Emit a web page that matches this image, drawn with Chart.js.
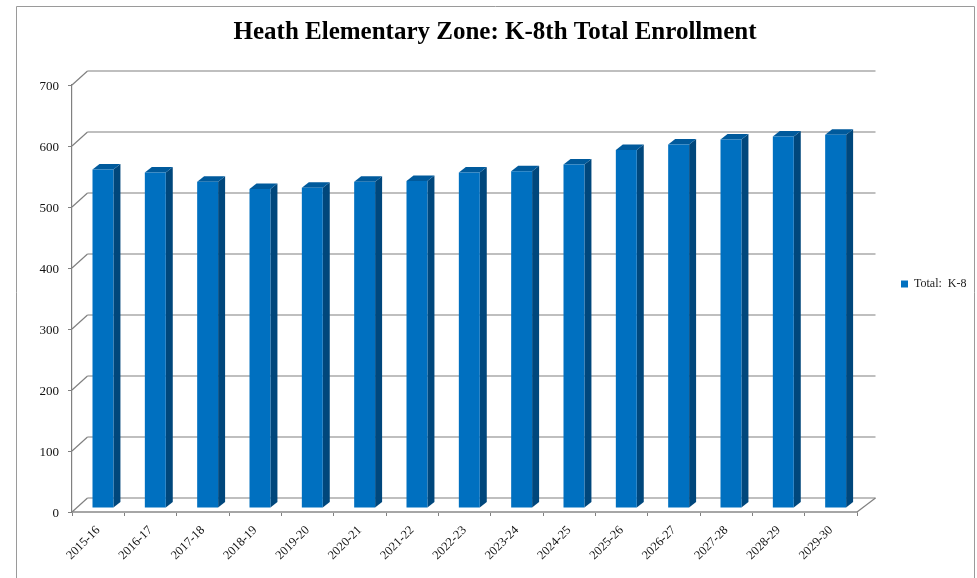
<!DOCTYPE html>
<html>
<head>
<meta charset="utf-8">
<title>Heath Elementary Zone: K-8th Total Enrollment</title>
<script src="https://cdn.jsdelivr.net/npm/chart.js@4"></script>
<style>
  html, body { margin: 0; padding: 0; background: #fff; overflow: hidden; }
  #wrap { position: relative; width: 977px; height: 578px; }
</style>
</head>
<body>
<div id="wrap"><canvas id="enrollment" width="977" height="578"></canvas></div>
<script>
'use strict';

const years = ['2015-16', '2016-17', '2017-18', '2018-19', '2019-20', '2020-21', '2021-22', '2022-23',
  '2023-24', '2024-25', '2025-26', '2026-27', '2027-28', '2028-29', '2029-30'];
const totalK8 = [555, 550, 535, 523, 525, 535, 536, 550, 552, 563, 587, 596, 604, 609, 612];

const SERIF = '"Liberation Serif", serif';
const GREY = '#808080';
const FRONT = '#0070c0', SIDE = '#00477c', TOP = '#005a9c';

// depth of the fake 3D box, and of each bar inside it
const WALL_DX = 15.5, WALL_DY = -14;
const BAR_SHIFT_X = 4.8, BAR_SHIFT_Y = -4;
const BAR_DX = 7, BAR_DY = -5.5;

function line(ctx, x1, y1, x2, y2) {
  ctx.beginPath();
  ctx.moveTo(x1, y1);
  ctx.lineTo(x2, y2);
  ctx.stroke();
}

function poly(ctx, pts, color) {
  ctx.fillStyle = color;
  ctx.beginPath();
  pts.forEach((p, i) => (i ? ctx.lineTo(p[0], p[1]) : ctx.moveTo(p[0], p[1])));
  ctx.closePath();
  ctx.fill();
}

// ── Frame round the whole picture (open at the bottom, as in the source) ──
const frame = {
  id: 'frame',
  beforeDraw(chart) {
    const ctx = chart.ctx;
    ctx.save();
    ctx.strokeStyle = '#9a9a9a';
    ctx.lineWidth = 1;
    ctx.beginPath();
    ctx.moveTo(16.5, 578);
    ctx.lineTo(16.5, 6.5);
    ctx.lineTo(974.5, 6.5);
    ctx.lineTo(974.5, 578);
    ctx.stroke();
    ctx.restore();
  }
};

// ── Legend sits apart from the plot, so size and place it by hand ──
const legendPlace = {
  id: 'legendPlace',
  beforeLayout(chart) {
    const legend = chart.legend;
    if (legend._fitWrapped) return;
    const fit = legend.fit;
    legend.fit = function () {
      fit.call(this);
      this.width = 120;
    };
    legend._fitWrapped = true;
  },
  afterLayout(chart) {
    const legend = chart.legend;
    const pad = legend.options.labels.padding;
    legend.left = 901 - pad;
    legend.right = 977;
    legend.top = 278 - pad;
    legend.bottom = 300;
  }
};

// ── Walls, floor, and the side and top faces of the bars ──
const box3d = {
  id: 'box3d',
  beforeDatasetsDraw(chart) {
    const ctx = chart.ctx, y = chart.scales.y, a = chart.chartArea;
    ctx.save();
    ctx.strokeStyle = GREY;
    ctx.lineWidth = 1.2;
    y.ticks.forEach(t => {
      const py = y.getPixelForValue(t.value);
      line(ctx, a.left, py, a.left + WALL_DX, py + WALL_DY);
      line(ctx, a.left + WALL_DX, py + WALL_DY, a.right + WALL_DX + 3, py + WALL_DY);
    });
    line(ctx, a.right, a.bottom, a.right + WALL_DX + 3, a.bottom + WALL_DY);
    ctx.restore();
  },
  beforeDatasetDraw(chart, args) {
    const ctx = chart.ctx;
    ctx.save();
    ctx.translate(BAR_SHIFT_X, BAR_SHIFT_Y);
    args.meta.data.forEach(bar => {
      const l = bar.x - bar.width / 2, r = bar.x + bar.width / 2;
      poly(ctx, [[r, bar.base], [r + BAR_DX, bar.base + BAR_DY], [r + BAR_DX, bar.y + BAR_DY], [r, bar.y]], SIDE);
      poly(ctx, [[l, bar.y], [l + BAR_DX, bar.y + BAR_DY], [r + BAR_DX, bar.y + BAR_DY], [r, bar.y]], TOP);
    });
  },
  afterDatasetDraw(chart) {
    chart.ctx.restore();
  }
};

new Chart(document.getElementById('enrollment').getContext('2d'), {
  type: 'bar',
  data: {
    labels: years,
    datasets: [{
      label: 'Total:  K-8',
      data: totalK8,
      backgroundColor: FRONT,
      borderWidth: 0,
      barPercentage: 0.4,
      categoryPercentage: 1
    }]
  },
  options: {
    responsive: false,
    animation: false,
    layout: { padding: { left: 13, right: 0, top: 0, bottom: 0 } },
    plugins: {
      title: {
        display: true,
        text: 'Heath Elementary Zone: K-8th Total Enrollment',
        color: '#000',
        font: { family: SERIF, size: 25, weight: 'bold', lineHeight: 1.2 },
        padding: { top: 18, bottom: 37 }
      },
      legend: {
        position: 'right',
        align: 'start',
        labels: {
          boxWidth: 7,
          boxHeight: 7,
          padding: 10,
          color: '#222',
          font: { family: SERIF, size: 12 }
        }
      },
      tooltip: { enabled: false }
    },
    scales: {
      x: {
        afterFit(scale) { scale.height = 66; },
        border: { color: '#a6a6a6', width: 2 },
        grid: { drawOnChartArea: false, color: GREY, tickLength: 4 },
        ticks: {
          maxRotation: 45,
          minRotation: 45,
          autoSkip: false,
          padding: 7,
          color: '#111',
          font: { family: SERIF, size: 12.5 }
        }
      },
      y: {
        min: 0,
        max: 700,
        afterFit(scale) { scale.width = 59; },
        border: { color: GREY, width: 1.2 },
        grid: { drawOnChartArea: false, color: GREY, tickLength: 4 },
        ticks: {
          stepSize: 100,
          padding: 9,
          labelOffset: 2,
          color: '#111',
          font: { family: SERIF, size: 13 }
        }
      }
    }
  },
  plugins: [frame, legendPlace, box3d]
});
</script>
</body>
</html>
